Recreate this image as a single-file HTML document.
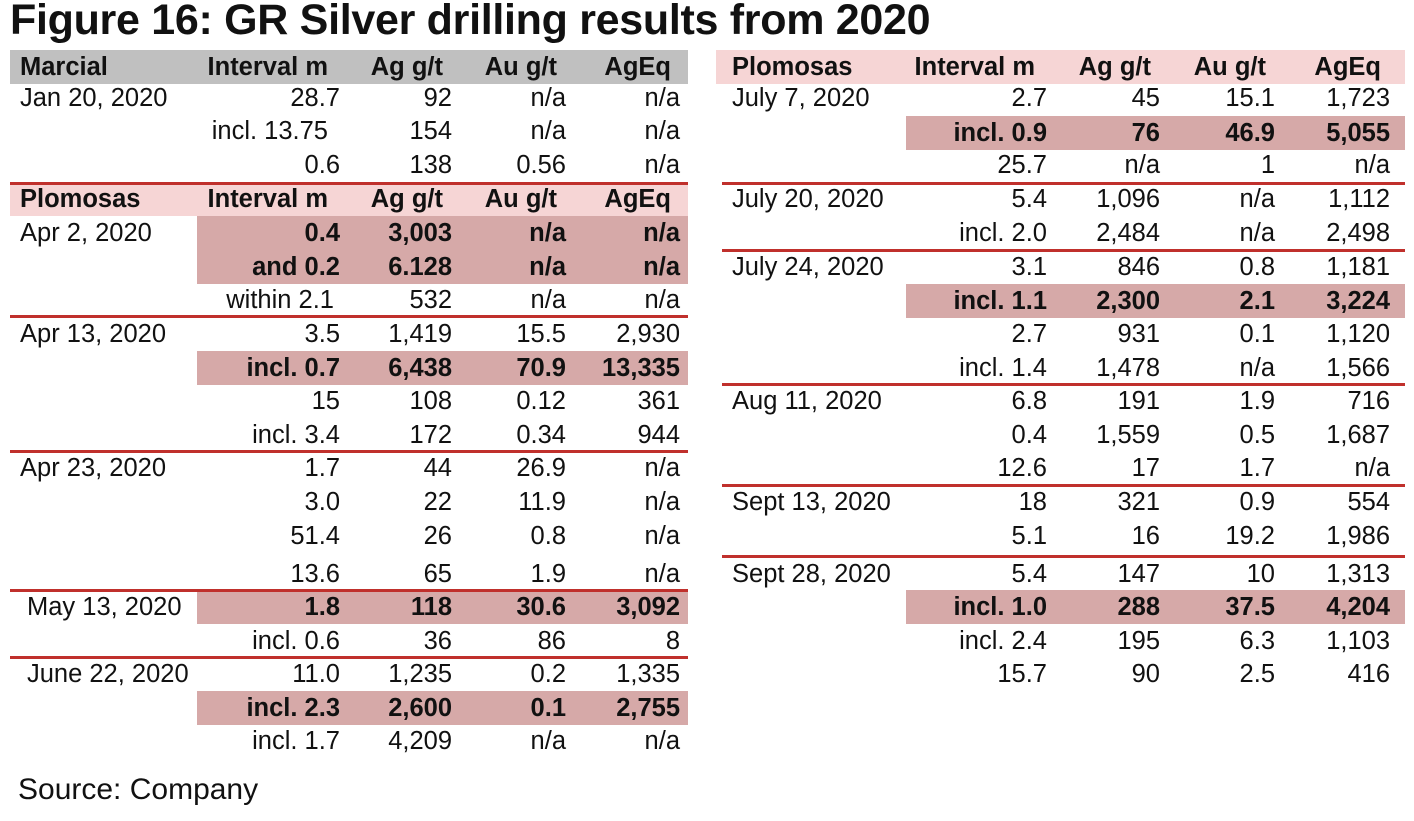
<!DOCTYPE html>
<html><head><meta charset="utf-8"><style>
body{margin:0;width:1414px;height:821px;background:#fff;position:relative;overflow:hidden;font-family:"Liberation Sans",Arial,sans-serif;color:#111}
.t{position:absolute;left:10px;top:-4px;font-size:43px;font-weight:bold;white-space:nowrap;letter-spacing:-0.3px}
.r{position:absolute;height:34px;line-height:34px;font-size:25.5px;white-space:nowrap}
.L{left:10px;width:678px}.R{left:716px;width:689px}
.r span{position:absolute;top:0}
.L .d{left:10px}.L .a{right:348px}.L .b{right:236px}.L .c{right:122px}.L .e{right:8px}
.R .d{left:16px}.R .a{right:358px}.R .b{right:245px}.R .c{right:130px}.R .e{right:15px}
.h{font-weight:bold}
.h .a{margin-right:12px}.h .b,.h .c,.h .e{margin-right:9px}
.g{background:#c0c0c0}.p{background:#f6d5d5}
.hl{position:absolute;background:#d6a9a8}
.bo{font-weight:bold}
.ln{position:absolute;height:3px;background:#c0302c}
.s{position:absolute;left:18px;top:773px;font-size:30px}
</style></head><body>
<div class="t">Figure 16: GR Silver drilling results from 2020</div>

<div class="hl" style="left:197px;top:216px;width:491px;height:68px"></div>
<div class="hl" style="left:197px;top:351px;width:491px;height:34px"></div>
<div class="hl" style="left:197px;top:590px;width:491px;height:34px"></div>
<div class="hl" style="left:197px;top:691px;width:491px;height:34px"></div>
<div class="hl" style="left:906px;top:116px;width:499px;height:34px"></div>
<div class="hl" style="left:906px;top:284px;width:499px;height:34px"></div>
<div class="hl" style="left:906px;top:590px;width:499px;height:34px"></div>

<div class="ln" style="left:10px;top:182px;width:678px"></div>
<div class="ln" style="left:10px;top:315px;width:678px"></div>
<div class="ln" style="left:10px;top:450px;width:678px"></div>
<div class="ln" style="left:10px;top:589px;width:678px"></div>
<div class="ln" style="left:10px;top:656px;width:678px"></div>
<div class="ln" style="left:722px;top:182px;width:683px"></div>
<div class="ln" style="left:722px;top:249px;width:683px"></div>
<div class="ln" style="left:722px;top:383px;width:683px"></div>
<div class="ln" style="left:722px;top:484px;width:683px"></div>
<div class="ln" style="left:722px;top:555px;width:683px"></div>

<div class="r L h g" style="top:50px"><span class="d">Marcial</span><span class="a">Interval m</span><span class="b">Ag g/t</span><span class="c">Au g/t</span><span class="e">AgEq</span></div>
<div class="r L" style="top:81px"><span class="d">Jan 20, 2020</span><span class="a">28.7</span><span class="b">92</span><span class="c">n/a</span><span class="e">n/a</span></div>
<div class="r L" style="top:114px"><span class="a" style="margin-right:12px">incl. 13.75</span><span class="b">154</span><span class="c">n/a</span><span class="e">n/a</span></div>
<div class="r L" style="top:148px"><span class="a">0.6</span><span class="b">138</span><span class="c">0.56</span><span class="e">n/a</span></div>
<div class="r L h p" style="top:185px;height:31px;line-height:29px"><span class="d">Plomosas</span><span class="a">Interval m</span><span class="b">Ag g/t</span><span class="c">Au g/t</span><span class="e">AgEq</span></div>
<div class="r L" style="top:216px"><span class="d">Apr 2, 2020</span><span class="a bo">0.4</span><span class="b bo">3,003</span><span class="c bo">n/a</span><span class="e bo">n/a</span></div>
<div class="r L" style="top:250px"><span class="a bo">and 0.2</span><span class="b bo">6.128</span><span class="c bo">n/a</span><span class="e bo">n/a</span></div>
<div class="r L" style="top:283px"><span class="a" style="margin-right:6px">within 2.1</span><span class="b">532</span><span class="c">n/a</span><span class="e">n/a</span></div>
<div class="r L" style="top:317px"><span class="d">Apr 13, 2020</span><span class="a">3.5</span><span class="b">1,419</span><span class="c">15.5</span><span class="e">2,930</span></div>
<div class="r L bo" style="top:351px"><span class="a">incl. 0.7</span><span class="b">6,438</span><span class="c">70.9</span><span class="e">13,335</span></div>
<div class="r L" style="top:384px"><span class="a">15</span><span class="b">108</span><span class="c">0.12</span><span class="e">361</span></div>
<div class="r L" style="top:418px"><span class="a">incl. 3.4</span><span class="b">172</span><span class="c">0.34</span><span class="e">944</span></div>
<div class="r L" style="top:451px"><span class="d">Apr 23, 2020</span><span class="a">1.7</span><span class="b">44</span><span class="c">26.9</span><span class="e">n/a</span></div>
<div class="r L" style="top:485px"><span class="a">3.0</span><span class="b">22</span><span class="c">11.9</span><span class="e">n/a</span></div>
<div class="r L" style="top:519px"><span class="a">51.4</span><span class="b">26</span><span class="c">0.8</span><span class="e">n/a</span></div>
<div class="r L" style="top:557px"><span class="a">13.6</span><span class="b">65</span><span class="c">1.9</span><span class="e">n/a</span></div>
<div class="r L" style="top:590px"><span class="d" style="left:17px">May 13, 2020</span><span class="a bo">1.8</span><span class="b bo">118</span><span class="c bo">30.6</span><span class="e bo">3,092</span></div>
<div class="r L" style="top:624px"><span class="a">incl. 0.6</span><span class="b">36</span><span class="c">86</span><span class="e">8</span></div>
<div class="r L" style="top:657px"><span class="d" style="left:17px">June 22, 2020</span><span class="a">11.0</span><span class="b">1,235</span><span class="c">0.2</span><span class="e">1,335</span></div>
<div class="r L bo" style="top:691px"><span class="a">incl. 2.3</span><span class="b">2,600</span><span class="c">0.1</span><span class="e">2,755</span></div>
<div class="r L" style="top:724px"><span class="a">incl. 1.7</span><span class="b">4,209</span><span class="c">n/a</span><span class="e">n/a</span></div>

<div class="r R h p" style="top:50px"><span class="d">Plomosas</span><span class="a">Interval m</span><span class="b">Ag g/t</span><span class="c">Au g/t</span><span class="e">AgEq</span></div>
<div class="r R" style="top:81px"><span class="d">July 7, 2020</span><span class="a">2.7</span><span class="b">45</span><span class="c">15.1</span><span class="e">1,723</span></div>
<div class="r R bo" style="top:116px"><span class="a">incl. 0.9</span><span class="b">76</span><span class="c">46.9</span><span class="e">5,055</span></div>
<div class="r R" style="top:148px"><span class="a">25.7</span><span class="b">n/a</span><span class="c">1</span><span class="e">n/a</span></div>
<div class="r R" style="top:182px"><span class="d">July 20, 2020</span><span class="a">5.4</span><span class="b">1,096</span><span class="c">n/a</span><span class="e">1,112</span></div>
<div class="r R" style="top:216px"><span class="a">incl. 2.0</span><span class="b">2,484</span><span class="c">n/a</span><span class="e">2,498</span></div>
<div class="r R" style="top:250px"><span class="d">July 24, 2020</span><span class="a">3.1</span><span class="b">846</span><span class="c">0.8</span><span class="e">1,181</span></div>
<div class="r R bo" style="top:284px"><span class="a">incl. 1.1</span><span class="b">2,300</span><span class="c">2.1</span><span class="e">3,224</span></div>
<div class="r R" style="top:317px"><span class="a">2.7</span><span class="b">931</span><span class="c">0.1</span><span class="e">1,120</span></div>
<div class="r R" style="top:351px"><span class="a">incl. 1.4</span><span class="b">1,478</span><span class="c">n/a</span><span class="e">1,566</span></div>
<div class="r R" style="top:384px"><span class="d">Aug 11, 2020</span><span class="a">6.8</span><span class="b">191</span><span class="c">1.9</span><span class="e">716</span></div>
<div class="r R" style="top:418px"><span class="a">0.4</span><span class="b">1,559</span><span class="c">0.5</span><span class="e">1,687</span></div>
<div class="r R" style="top:451px"><span class="a">12.6</span><span class="b">17</span><span class="c">1.7</span><span class="e">n/a</span></div>
<div class="r R" style="top:485px"><span class="d">Sept 13, 2020</span><span class="a">18</span><span class="b">321</span><span class="c">0.9</span><span class="e">554</span></div>
<div class="r R" style="top:519px"><span class="a">5.1</span><span class="b">16</span><span class="c">19.2</span><span class="e">1,986</span></div>
<div class="r R" style="top:557px"><span class="d">Sept 28, 2020</span><span class="a">5.4</span><span class="b">147</span><span class="c">10</span><span class="e">1,313</span></div>
<div class="r R bo" style="top:590px"><span class="a">incl. 1.0</span><span class="b">288</span><span class="c">37.5</span><span class="e">4,204</span></div>
<div class="r R" style="top:624px"><span class="a">incl. 2.4</span><span class="b">195</span><span class="c">6.3</span><span class="e">1,103</span></div>
<div class="r R" style="top:657px"><span class="a">15.7</span><span class="b">90</span><span class="c">2.5</span><span class="e">416</span></div>

<div class="s">Source: Company</div>
</body></html>
